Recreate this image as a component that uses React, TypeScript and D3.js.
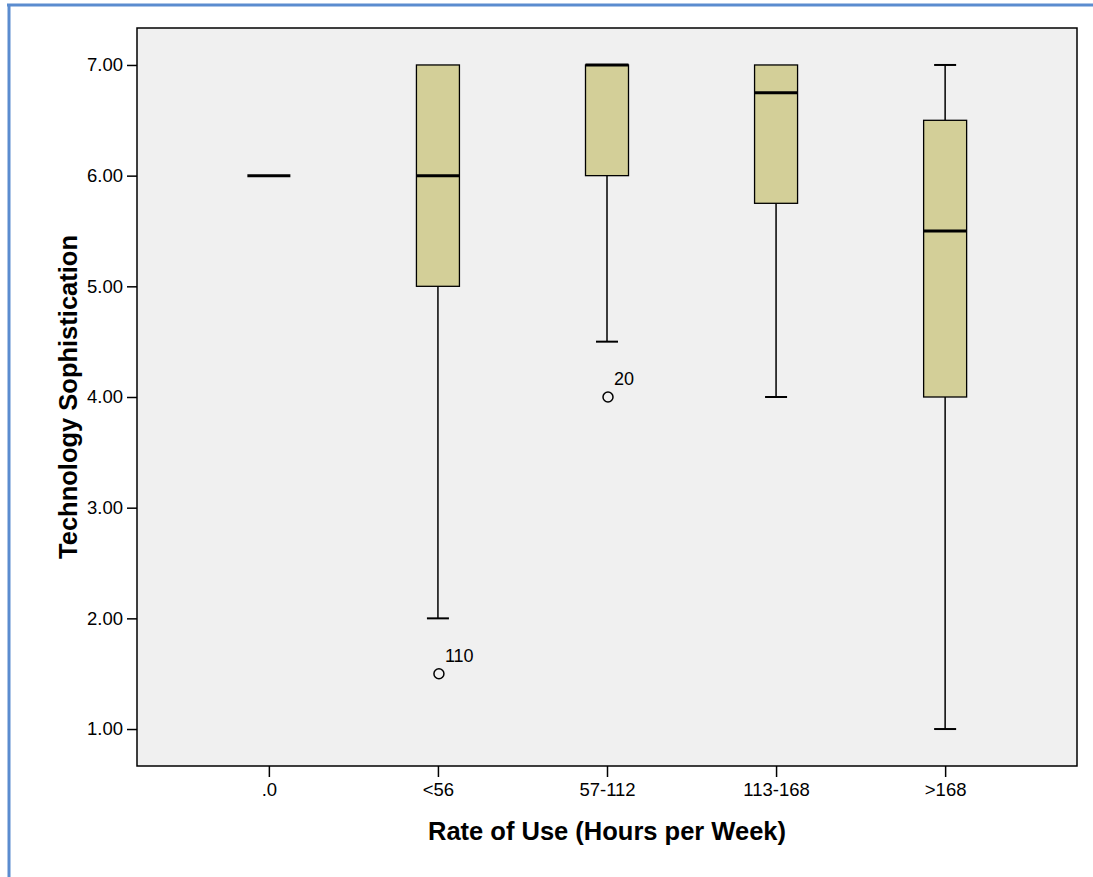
import React, { useEffect, useRef } from "react";
import * as d3 from "d3";

const categories = [".0", "<56", "57-112", "113-168", ">168"];
// box stats per category: [whiskerLow, q1, median, q3, whiskerHigh]
const lows = [6, 2, 4.5, 4, 1];
const q1s = [6, 5, 6, 5.75, 4];
const medians = [6, 6, 7, 6.75, 5.5];
const q3s = [6, 7, 7, 7, 6.5];
const highs = [6, 7, 7, 7, 7];
const outlierCats = ["<56", "57-112"];
const outlierVals = [1.5, 4];
const outlierIds = ["110", "20"];
const yTicks = [1, 2, 3, 4, 5, 6, 7];

const App = () => {
  const ref = useRef<SVGSVGElement>(null);

  useEffect(() => {
    const svg = d3.select(ref.current);
    svg.selectAll("*").remove();

    const left = 137, right = 1077, top = 28, bottom = 766;
    const font = "Arial, 'Liberation Sans', sans-serif";

    // outer frame lines
    svg.append("line").attr("x1", 7).attr("x2", 1093).attr("y1", 5).attr("y2", 5)
      .attr("stroke", "#5b8ccf").attr("stroke-width", 3);
    svg.append("line").attr("x1", 9).attr("x2", 9).attr("y1", 4).attr("y2", 877)
      .attr("stroke", "#5b8ccf").attr("stroke-width", 3);

    const x = d3.scalePoint<string>().domain(categories).range([left, right]).padding(0.78);
    const y = d3.scaleLinear().domain([0.666, 7.334]).range([bottom, top]);

    svg.append("rect")
      .attr("x", left).attr("y", top)
      .attr("width", right - left).attr("height", bottom - top)
      .attr("fill", "#f0f0f0").attr("stroke", "#000").attr("stroke-width", 1.5);

    // y axis
    const yAxis = svg.append("g").attr("transform", `translate(${left},0)`)
      .call(d3.axisLeft(y).tickValues(yTicks).tickSize(10).tickSizeOuter(0).tickFormat(d3.format(".2f")));
    yAxis.select(".domain").remove();
    yAxis.selectAll("line").attr("stroke", "#000").attr("stroke-width", 1.5);
    yAxis.selectAll("text").attr("font-family", font).attr("font-size", 18.5).attr("fill", "#000").attr("dx", "-1");

    // x axis
    const xAxis = svg.append("g").attr("transform", `translate(0,${bottom})`)
      .call(d3.axisBottom(x).tickSize(11).tickSizeOuter(0));
    xAxis.select(".domain").remove();
    xAxis.selectAll("line").attr("stroke", "#000").attr("stroke-width", 1.5);
    xAxis.selectAll("text").attr("font-family", font).attr("font-size", 18.5).attr("fill", "#000")
      .attr("y", 17).attr("dy", "0.71em");

    const boxW = 43, capW = 22;
    const boxes = svg.append("g");
    categories.forEach((c, i) => {
      const cx = x(c)!;
      const g = boxes.append("g");
      if (q3s[i] > q1s[i]) {
        // whiskers
        g.append("line").attr("x1", cx).attr("x2", cx).attr("y1", y(lows[i])).attr("y2", y(q1s[i]))
          .attr("stroke", "#000").attr("stroke-width", 1.5);
        g.append("line").attr("x1", cx).attr("x2", cx).attr("y1", y(q3s[i])).attr("y2", y(highs[i]))
          .attr("stroke", "#000").attr("stroke-width", 1.5);
        if (lows[i] < q1s[i])
          g.append("line").attr("x1", cx - capW / 2).attr("x2", cx + capW / 2).attr("y1", y(lows[i])).attr("y2", y(lows[i]))
            .attr("stroke", "#000").attr("stroke-width", 2);
        if (highs[i] > q3s[i])
          g.append("line").attr("x1", cx - capW / 2).attr("x2", cx + capW / 2).attr("y1", y(highs[i])).attr("y2", y(highs[i]))
            .attr("stroke", "#000").attr("stroke-width", 2);
        g.append("rect").attr("x", cx - boxW / 2).attr("y", y(q3s[i]))
          .attr("width", boxW).attr("height", y(q1s[i]) - y(q3s[i]))
          .attr("fill", "#d3cf98").attr("stroke", "#000").attr("stroke-width", 1.3);
      }
      g.append("line").attr("x1", cx - boxW / 2).attr("x2", cx + boxW / 2)
        .attr("y1", y(medians[i])).attr("y2", y(medians[i]))
        .attr("stroke", "#000").attr("stroke-width", 3);
    });

    // outliers
    outlierCats.forEach((c, i) => {
      const cx = x(c)! + 1;
      const cy = y(outlierVals[i]);
      svg.append("circle").attr("cx", cx).attr("cy", cy).attr("r", 5)
        .attr("fill", "none").attr("stroke", "#000").attr("stroke-width", 1.5);
      svg.append("text").attr("x", cx + 6).attr("y", cy - 12)
        .attr("font-family", font).attr("font-size", 18).text(outlierIds[i]);
    });

    // axis titles
    svg.append("text").attr("x", (left + right) / 2).attr("y", 840)
      .attr("text-anchor", "middle").attr("font-family", font).attr("font-weight", "bold")
      .attr("font-size", 25.5).text("Rate of Use (Hours per Week)");
    svg.append("text")
      .attr("transform", `translate(77,${(top + bottom) / 2}) rotate(-90)`)
      .attr("text-anchor", "middle").attr("font-family", font).attr("font-weight", "bold")
      .attr("font-size", 25.5).text("Technology Sophistication");
  }, []);

  return (
    <svg ref={ref} width={1093} height={877}
      style={{ position: "absolute", left: 0, top: 0, background: "#fff" }} />
  );
};

export default App;
